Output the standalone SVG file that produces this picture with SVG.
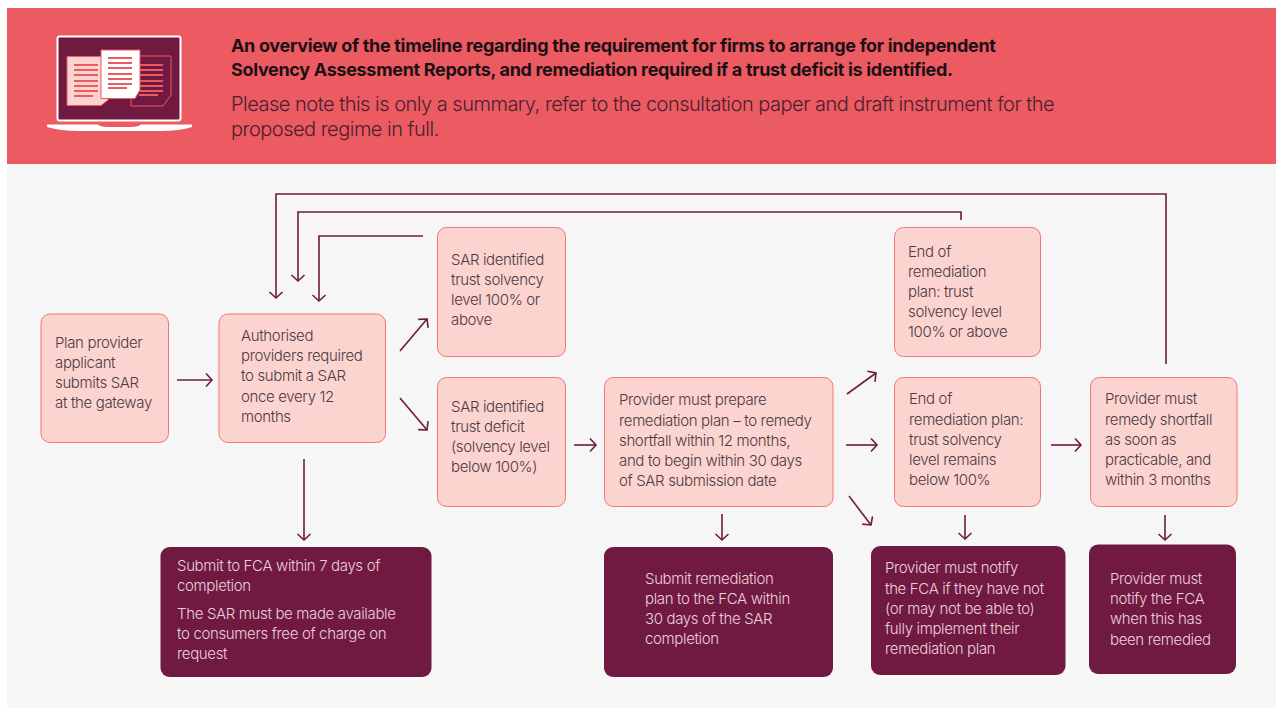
<svg xmlns="http://www.w3.org/2000/svg" width="1276" height="708" viewBox="0 0 1276 708">
<style>
text{font-family:Inter,"Open Sans",sans-serif;font-size:15px;font-weight:300;letter-spacing:-.35px;fill:#4d3a42}
.lt{fill:#fbd3cf;stroke:#f0767b;stroke-width:1}
.dk{fill:#701a42}
.w text{fill:#ecd0da}
.c{fill:none;stroke:#701a42;stroke-width:1.6}
text.h{font-size:18px;font-weight:700;fill:#1c1014;letter-spacing:-.32px}
text.s{font-size:20px;fill:#4a2030;font-weight:300;letter-spacing:-.5px}
</style>
<defs>
<marker id="a" markerUnits="userSpaceOnUse" markerWidth="16" markerHeight="16" refX="12" refY="8" orient="auto"><path d="M6 1.5L12 8L6 14.500" fill="none" stroke="#701a42" stroke-width="1.6"/></marker>
</defs>
<rect width="1276" height="708" fill="#fff"/>
<rect x="7" y="164" width="1269" height="544" fill="#f6f6f6"/>
<rect x="7" y="8" width="1269" height="156" fill="#ec5a62"/>
<g id="icon">
<path d="M47 124.500H192V127Q180 131 160 131H80Q60 131 47 127Z" fill="#fff"/>
<path d="M98 124H141Q140 127 130 127H108Q99 127 98 124Z" fill="#ec5a62"/>
<rect x="57.500" y="36.500" width="123" height="84" rx="2" fill="#701a42" stroke="#fff" stroke-width="2"/>
<path d="M140 56H171V95L163 106H131V99" fill="#701a42" stroke="#ec5a62" stroke-width="1"/>
<path d="M67 56.500H108V100L101 105.500H67Z" fill="#fbd3cf" stroke="#ec5a62" stroke-width="1"/>
<path d="M101 50H140V90L135 98.500H101Z" fill="#fff" stroke="#ec5a62" stroke-width="1"/>
<g stroke="#ec5a62" stroke-width="2">
<path d="M74 65H98M74 70H98M74 75H98M74 81H98M74 86H98M74 91H98M74 96H93"/>
<path d="M108 58H132M108 63H132M108 68H132M108 74H132M108 79H132M108 84H132M108 88H127"/>
<path d="M140 65H163M140 70H163M140 75H163M140 81H163M140 86H163M140 91H163M139 95H158"/>
</g>
</g>
<g id="header">
<text class="h" x="231" y="52">An overview of the timeline regarding the requirement for firms to arrange for independent</text>
<text class="h" x="231" y="76">Solvency Assessment Reports, and remediation required if a trust deficit is identified.</text>
<text class="s" x="231" y="111">Please note this is only a summary, refer to the consultation paper and draft instrument for the</text>
<text class="s" x="231" y="136">proposed regime in full.</text>
</g>
<g id="connectors">
<path class="c" marker-end="url(#a)" d="M177 380H212"/>
<path class="c" marker-end="url(#a)" d="M1166 364V194H276V298"/>
<path class="c" marker-end="url(#a)" d="M961 220V212H298V281"/>
<path class="c" marker-end="url(#a)" d="M423 236H319V301"/>
<path class="c" marker-end="url(#a)" d="M400 351L427 319"/>
<path class="c" marker-end="url(#a)" d="M400 398L427 430"/>
<path class="c" marker-end="url(#a)" d="M304 459V540"/>
<path class="c" marker-end="url(#a)" d="M574 445H596"/>
<path class="c" marker-end="url(#a)" d="M722 514V540"/>
<path class="c" marker-end="url(#a)" d="M847 394L876 373"/>
<path class="c" marker-end="url(#a)" d="M846 445H877"/>
<path class="c" marker-end="url(#a)" d="M849 496L871 525"/>
<path class="c" marker-end="url(#a)" d="M965 515V539"/>
<path class="c" marker-end="url(#a)" d="M1051 445H1081"/>
<path class="c" marker-end="url(#a)" d="M1165 515V540"/>
</g>
<g id="n1"><rect class="lt" x="41" y="314" width="127.500" height="128.500" rx="9"/><text x="55" y="348">Plan provider</text><text x="55" y="368">applicant</text><text x="55" y="388">submits SAR</text><text x="55" y="408">at the gateway</text></g>
<g id="n2"><rect class="lt" x="219" y="314" width="166.500" height="128.500" rx="9"/><text x="241" y="341">Authorised</text><text x="241" y="361">providers required</text><text x="241" y="381">to submit a SAR</text><text x="241" y="402">once every 12</text><text x="241" y="422">months</text></g>
<g id="n3"><rect class="lt" x="437.500" y="227.500" width="128" height="129" rx="9"/><text x="451" y="265">SAR identified</text><text x="451" y="285">trust solvency</text><text x="451" y="305">level 100% or</text><text x="451" y="325">above</text></g>
<g id="n4"><rect class="lt" x="437.500" y="377.500" width="128" height="129" rx="9"/><text x="451" y="412">SAR identified</text><text x="451" y="432">trust deficit</text><text x="451" y="452">(solvency level</text><text x="451" y="472">below 100%)</text></g>
<g id="n5"><rect class="lt" x="604.500" y="377.500" width="228.500" height="129" rx="9"/><text x="619" y="405">Provider must prepare</text><text x="619" y="426">remediation plan – to remedy</text><text x="619" y="446">shortfall within 12 months,</text><text x="619" y="466">and to begin within 30 days</text><text x="619" y="486">of SAR submission date</text></g>
<g id="n6"><rect class="lt" x="894.500" y="227.500" width="146" height="129" rx="9"/><text x="908" y="257">End of</text><text x="908" y="277">remediation</text><text x="908" y="297">plan: trust</text><text x="908" y="317">solvency level</text><text x="908" y="337">100% or above</text></g>
<g id="n7"><rect class="lt" x="894.500" y="377.500" width="146" height="129" rx="9"/><text x="909" y="404">End of</text><text x="909" y="425">remediation plan:</text><text x="909" y="445">trust solvency</text><text x="909" y="465">level remains</text><text x="909" y="485">below 100%</text></g>
<g id="n8"><rect class="lt" x="1090.500" y="377.500" width="146.500" height="129" rx="9"/><text x="1105" y="404">Provider must</text><text x="1105" y="425">remedy shortfall</text><text x="1105" y="445">as soon as</text><text x="1105" y="465">practicable, and</text><text x="1105" y="485">within 3 months</text></g>
<g id="n9" class="w"><rect class="dk" x="160.500" y="547" width="271" height="130" rx="9"/><text x="177" y="571">Submit to FCA within 7 days of</text><text x="177" y="591">completion</text><text x="177" y="619">The SAR must be made available</text><text x="177" y="639">to consumers free of charge on</text><text x="177" y="659">request</text></g>
<g id="n10" class="w"><rect class="dk" x="604" y="547" width="229" height="130" rx="9"/><text x="645" y="584">Submit remediation</text><text x="645" y="604">plan to the FCA within</text><text x="645" y="624">30 days of the SAR</text><text x="645" y="644">completion</text></g>
<g id="n11" class="w"><rect class="dk" x="871" y="546" width="194.500" height="129" rx="9"/><text x="885" y="573">Provider must notify</text><text x="885" y="594">the FCA if they have not</text><text x="885" y="614">(or may not be able to)</text><text x="885" y="634">fully implement their</text><text x="885" y="654">remediation plan</text></g>
<g id="n12" class="w"><rect class="dk" x="1089" y="544.500" width="147" height="129.500" rx="9"/><text x="1110" y="584">Provider must</text><text x="1110" y="604">notify the FCA</text><text x="1110" y="624">when this has</text><text x="1110" y="645">been remedied</text></g>
</svg>
